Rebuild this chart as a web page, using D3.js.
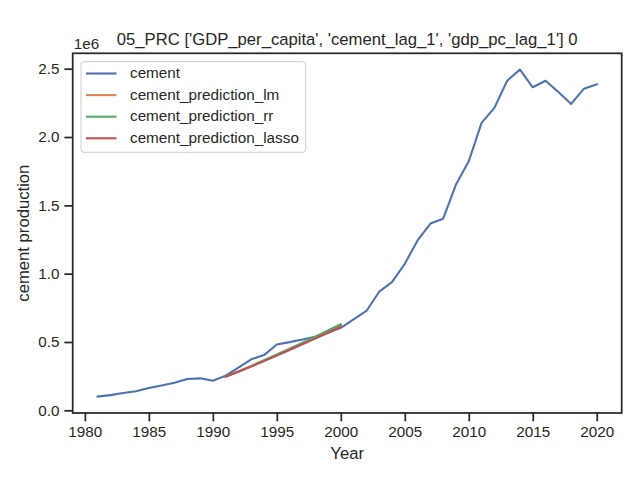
<!DOCTYPE html>
<html>
<head>
<meta charset="utf-8">
<script src="https://cdn.jsdelivr.net/npm/d3@7"></script>
<style>
  html, body { margin: 0; padding: 0; background: #ffffff; }
  svg { display: block; }
  text { font-family: "Liberation Sans", Arial, sans-serif; fill: #262626; }
</style>
</head>
<body>
<svg id="chart" width="640" height="480"></svg>
<script>
// ---- data ----
const years = [1981,1982,1983,1984,1985,1986,1987,1988,1989,1990,
               1991,1992,1993,1994,1995,1996,1997,1998,1999,2000,
               2001,2002,2003,2004,2005,2006,2007,2008,2009,2010,
               2011,2012,2013,2014,2015,2016,2017,2018,2019,2020];
const cement = [100000,111000,126000,139000,163000,182000,202000,229000,234000,217000,
                253000,312000,373000,404000,482000,499000,519000,539000,568000,604000,
                665000,727000,868000,938000,1072000,1243000,1367000,1402000,1652000,1823000,
                2103000,2213000,2412000,2493000,2364000,2412000,2330000,2242000,2354000,2386000];
const predYears = [1991,1992,1993,1994,1995,1996,1997,1998,1999,2000];
const predLm    = [247000,284000,323000,364000,405000,447000,490000,534000,579000,625000];
const predRr    = [247000,285000,325000,366000,408000,450000,494000,538000,584000,630000];
const predLasso = [246000,282000,320000,360000,400000,441000,483000,525000,568000,612000];
const xTicks = [1980,1985,1990,1995,2000,2005,2010,2015,2020];
const yTicks = [0,500000,1000000,1500000,2000000,2500000];
const seriesNames = ["cement","cement_prediction_lm","cement_prediction_rr","cement_prediction_lasso"];
const seriesColors = ["#4C72B0","#DD8452","#55A868","#C44E52"];
const titleText = "05_PRC ['GDP_per_capita', 'cement_lag_1', 'gdp_pc_lag_1'] 0";

// ---- layout ----
const L = 72.7, R = 621.7, T = 53.3, B = 413;
const svg = d3.select("#chart");

const xExt = [d3.min(years), d3.max(years)];
const xPad = (xExt[1] - xExt[0]) * 0.05;
const x = d3.scaleLinear().domain([xExt[0] - xPad, xExt[1] + xPad]).range([L, R]);

const allVals = cement.concat(predLm, predRr, predLasso);
const yExt = [d3.min(allVals), d3.max(allVals)];
const yPad = (yExt[1] - yExt[0]) * 0.05;
const y = d3.scaleLinear().domain([yExt[0] - yPad, yExt[1] + yPad]).range([B, T]);

// ---- axes ----
const tickLen = 8.3, tickPad = 4.9;
const xAxis = d3.axisBottom(x).tickValues(xTicks).tickFormat(d3.format("d"))
  .tickSize(tickLen).tickSizeOuter(0).tickPadding(tickPad);
const yAxis = d3.axisLeft(y).tickValues(yTicks).tickFormat(d => (d / 1e6).toFixed(1))
  .tickSize(tickLen).tickSizeOuter(0).tickPadding(tickPad);

const gx = svg.append("g").attr("transform", `translate(0,${B})`).call(xAxis);
const gy = svg.append("g").attr("transform", `translate(${L},0)`).call(yAxis);
[gx, gy].forEach(g => {
  g.select(".domain").remove();
  g.selectAll(".tick line").attr("stroke", "#262626").attr("stroke-width", 1.74);
  g.selectAll(".tick text").attr("fill", "#262626")
    .style("font-family", '"Liberation Sans", Arial, sans-serif').style("font-size", "15.28px");
});

// ---- lines ----
const line = d3.line().x(d => x(d[0])).y(d => y(d[1]));
const seriesData = [
  d3.zip(years, cement),
  d3.zip(predYears, predLm),
  d3.zip(predYears, predRr),
  d3.zip(predYears, predLasso)
];
seriesData.forEach((data, i) => {
  svg.append("path").datum(data)
    .attr("d", line)
    .attr("fill", "none")
    .attr("stroke", seriesColors[i])
    .attr("stroke-width", 2.08)
    .attr("stroke-linejoin", "round")
    .attr("stroke-linecap", "square");
});

// ---- frame ----
svg.append("rect").attr("x", L).attr("y", T).attr("width", R - L).attr("height", B - T)
  .attr("fill", "none").attr("stroke", "#262626").attr("stroke-width", 1.74);

// ---- legend ----
const lg = svg.append("g");
lg.append("rect").attr("x", 81).attr("y", 61.7).attr("width", 224.7).attr("height", 90.6)
  .attr("rx", 3).attr("ry", 3)
  .attr("fill", "#ffffff").attr("fill-opacity", 0.8)
  .attr("stroke", "#cccccc").attr("stroke-width", 1);
seriesNames.forEach((name, i) => {
  const cy = 73.5 + i * 21.6;
  lg.append("line").attr("x1", 86).attr("x2", 116.5).attr("y1", cy).attr("y2", cy)
    .attr("stroke", seriesColors[i]).attr("stroke-width", 2.08);
  lg.append("text").attr("x", 130).attr("y", cy + 4.6)
    .style("font-size", "15.28px").text(name);
});

// ---- texts ----
svg.append("text").attr("x", (L + R) / 2).attr("y", 45).attr("text-anchor", "middle")
  .style("font-size", "16.67px").text(titleText);
svg.append("text").attr("x", L + 1).attr("y", 48.5).style("font-size", "15.28px").text("1e6");
svg.append("text").attr("x", (L + R) / 2).attr("y", 459).attr("text-anchor", "middle")
  .style("font-size", "16.67px").text("Year");
svg.append("text").attr("transform", `translate(28.5,${(T + B) / 2}) rotate(-90)`)
  .attr("text-anchor", "middle").style("font-size", "16.67px").text("cement production");
</script>
</body>
</html>
